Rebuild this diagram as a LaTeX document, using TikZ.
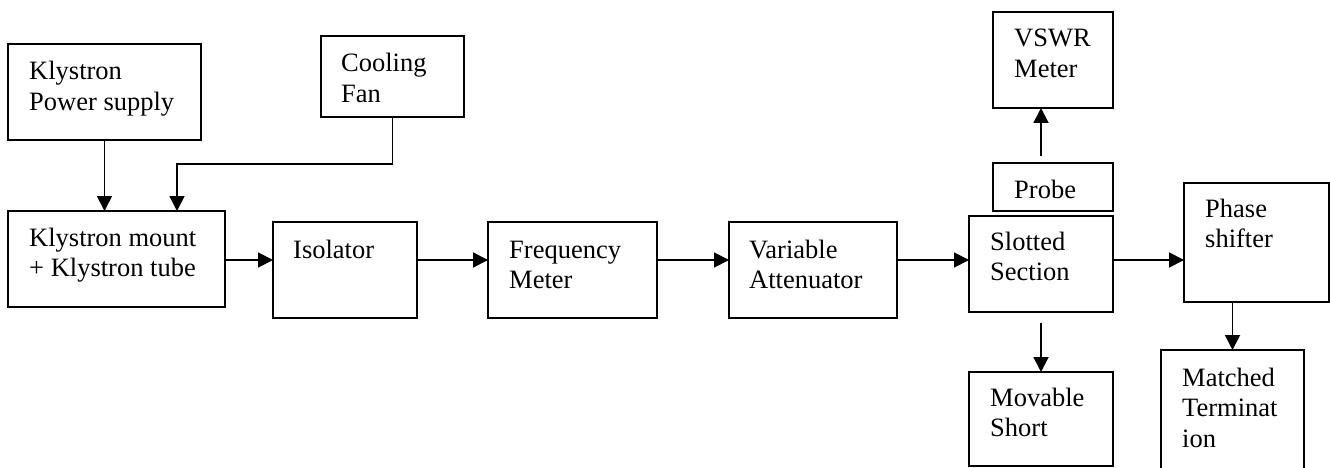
\documentclass[tikz,border=0pt]{standalone}
\usepackage{fontspec}
\setmainfont{Liberation Serif}
\usetikzlibrary{arrows.meta,calc}
\newcommand\boxlines[1]{\parbox[t]{220pt}{\raggedright #1}}

\begin{document}
\begin{tikzpicture}[x=1pt,y=-1pt,
  blk/.style={draw, line width=1.8pt, inner sep=0pt, outer sep=0pt, anchor=north west},
  lbl/.style={inner sep=0pt, anchor=base west, font=\fontsize{26.5}{30.5}\selectfont},
  conn/.style={line width=1.8pt, -{Triangle[length=15pt,width=15pt]}}]
\useasboundingbox (0,0) rectangle (1330,468);

% blocks
\node[blk, minimum width=193pt, minimum height=96pt]  (kps)   at (8,44)    {};
\node[blk, minimum width=143pt, minimum height=81pt]  (fan)   at (321,36)  {};
\node[blk, minimum width=217pt, minimum height=96pt]  (km)    at (8,211)   {};
\node[blk, minimum width=144pt, minimum height=96pt]  (iso)   at (273,222) {};
\node[blk, minimum width=169pt, minimum height=96pt]  (fm)    at (488,222) {};
\node[blk, minimum width=168pt, minimum height=96pt]  (va)    at (729,222) {};
\node[blk, minimum width=120pt, minimum height=96pt]  (vswr)  at (993,12)  {};
\node[blk, minimum width=120pt, minimum height=48pt]  (probe) at (993,163) {};
\node[blk, minimum width=144pt, minimum height=96pt]  (ss)    at (969,216) {};
\node[blk, minimum width=145pt, minimum height=119pt] (ps)    at (1184,183){};
\node[blk, minimum width=144pt, minimum height=94pt]  (ms)    at (969,372) {};
\node[blk, minimum width=143pt, minimum height=130pt] (mt)    at (1161,350){};

% block texts
\node[lbl] (tkps)   at ($(kps.north west)+(21,36)$)   {\boxlines{Klystron\\Power supply}};
\node[lbl] (tfan)   at ($(fan.north west)+(20,36)$)   {\boxlines{Cooling\\Fan}};
\node[lbl] (tkm)    at ($(km.north west)+(21,35)$)    {\boxlines{Klystron mount\\+ Klystron tube}};
\node[lbl] (tiso)   at ($(iso.north west)+(20,36)$)   {\boxlines{Isolator}};
\node[lbl] (tfm)    at ($(fm.north west)+(21,36)$)    {\boxlines{Frequency\\Meter}};
\node[lbl] (tva)    at ($(va.north west)+(20,36)$)    {\boxlines{Variable\\Attenuator}};
\node[lbl] (tvswr)  at ($(vswr.north west)+(21,35)$)  {\boxlines{VSWR\\Meter}};
\node[lbl] (tprobe) at ($(probe.north west)+(21,35)$) {\boxlines{Probe}};
\node[lbl] (tss)    at ($(ss.north west)+(21,34)$)    {\boxlines{Slotted\\Section}};
\node[lbl] (tps)    at ($(ps.north west)+(21,34)$)    {\boxlines{Phase\\shifter}};
\node[lbl] (tms)    at ($(ms.north west)+(21,34)$)    {\boxlines{Movable\\Short}};
\node[lbl] (tmt)    at ($(mt.north west)+(21,36)$)    {\boxlines{Matched\\Terminat\\ion}};

% free ends and bends
\coordinate (fanbend)  at (177,164);
\coordinate (probeout) at (1041,156);
\coordinate (ssdown)   at (1041,323);
\coordinate (mainline) at (0,260);

% connectors
\draw[conn] (kps.south) -- (kps.south |- km.north);
\draw[conn] (fan.south) |- (fanbend) -- (fanbend |- km.north);
\draw[conn] (km.east |- mainline)  -- (iso.west |- mainline);
\draw[conn] (iso.east |- mainline) -- (fm.west |- mainline);
\draw[conn] (fm.east |- mainline)  -- (va.west |- mainline);
\draw[conn] (va.east |- mainline)  -- (ss.west |- mainline);
\draw[conn] (ss.east |- mainline)  -- (ps.west |- mainline);
\draw[conn] (probeout) -- (probeout |- vswr.south);
\draw[conn] (ssdown) -- (ssdown |- ms.north);
\draw[conn] (mt.north |- ps.south) -- (mt.north);
\end{tikzpicture}
\end{document}
